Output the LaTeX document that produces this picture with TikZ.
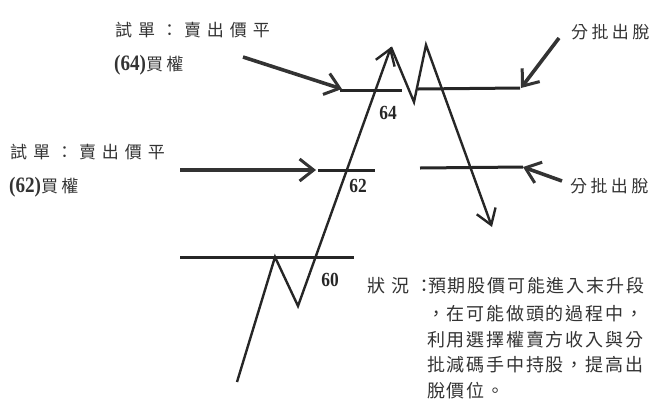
\documentclass[tikz,border=0pt]{standalone}
\usepackage{fontspec}
\setmainfont{Liberation Serif}
\newfontfamily\cjk{Noto Sans CJK TC}
\newfontfamily\condbf[FakeStretch=0.87]{Liberation Serif Bold}
\usetikzlibrary{arrows.meta}
\tikzset{
  level/.style={line width=3pt, draw=black!85},
  trend/.style={line width=2.4pt, draw=black!85},
  barb/.style={-{Straight Barb[length=15pt,width=20pt,line width=2.4pt]}},
  pointer/.style={line width=3.6pt, draw=black!80, -{Straight Barb[length=14pt,width=22pt,line width=3pt]}},
  lbl/.style={inner sep=0pt, text=black!80, font=\cjk\fontsize{17}{20}\selectfont\addfontfeature{LetterSpace=35}},
  sell/.style={inner sep=0pt, text=black!80, font=\cjk\fontsize{17}{20}\selectfont\addfontfeature{LetterSpace=20}},
  num/.style={inner sep=0pt, text=black!85, font=\condbf\fontsize{20}{22}\selectfont},
  note/.style={inner sep=0pt, anchor=base west, text=black!80, font=\cjk\fontsize{18}{22}\selectfont\addfontfeature{LetterSpace=10}}
}
\begin{document}
\begin{tikzpicture}[x=1pt,y=-1pt]
\useasboundingbox (0,0) rectangle (653,416);
% trend path points
\coordinate (start) at (237,382);
\coordinate (p1) at (275,257);
\coordinate (v1) at (298,306);
\coordinate (peak1) at (391,47);
\coordinate (v2) at (414,102);
\coordinate (peak2) at (426,45);
\coordinate (fin) at (492,227);
% level lines
\coordinate (a64l) at (340,90); \coordinate (b64l) at (402,90);
\coordinate (a64r) at (418,89); \coordinate (b64r) at (520,88);
\coordinate (a62l) at (318,170); \coordinate (b62l) at (375,170);
\coordinate (a62r) at (420,168); \coordinate (b62r) at (523,167);
\coordinate (a60) at (180,257); \coordinate (b60) at (354,257);
\draw[level] (a64l) -- (b64l);
\draw[level] (a64r) -- (b64r);
\draw[level] (a62l) -- (b62l);
\draw[level] (a62r) -- (b62r);
\draw[level] (a60) -- (b60);
% trend
\draw[trend, barb, line join=miter] (start) -- (p1) -- (v1) -- (peak1);
\draw[trend, barb, line join=miter] (peak1) -- (v2) -- (peak2) -- (fin);
% labels on levels
\node[num] (n64) at (388,113) {64};
\node[num] (n62) at (358,186) {62};
\node[num] (n60) at (330,280) {60};
% left labels
\node[lbl, anchor=west] (t1) at (115,30) {試單：賣出價平};
\node[anchor=west, inner sep=0pt, text=black!80] (o1) at (114,65) {\condbf\fontsize{22}{24}\selectfont (64)\cjk\fontsize{17}{20}\selectfont\addfontfeature{LetterSpace=20}買權};
\node[lbl, anchor=west] (t2) at (10,152) {試單：賣出價平};
\node[anchor=west, inner sep=0pt, text=black!80] (o2) at (9,187) {\condbf\fontsize{22}{24}\selectfont (62)\cjk\fontsize{17}{20}\selectfont\addfontfeature{LetterSpace=20}買權};
% right labels
\node[sell, anchor=west] (s1) at (571,32) {分批出脫};
\node[sell, anchor=west] (s2) at (570,186) {分批出脫};
% pointers
\coordinate (q1) at (243,57); \coordinate (q1e) at (342,89);
\coordinate (q2) at (180,170); \coordinate (q2e) at (316,170);
\coordinate (q3) at (559,38); \coordinate (q3e) at (521,88);
\coordinate (q4) at (562,181); \coordinate (q4e) at (523,167);
\draw[pointer] (q1) -- (q1e);
\draw[pointer] (q2) -- (q2e);
\draw[pointer] (q3) -- (q3e);
\draw[pointer] (q4) -- (q4e);
% note
\node[note, font=\cjk\fontsize{18}{22}\selectfont\addfontfeature{LetterSpace=35}] (k0) at (367,292) {狀況：};
\node[note] (k1) at (428,292) {預期股價可能進入末升段};
\node[note] (k2) at (427,320) {，在可能做頭的過程中，};
\node[note] (k3) at (427,346) {利用選擇權賣方收入與分};
\node[note] (k4) at (427,371) {批減碼手中持股，提高出};
\node[note] (k5) at (427,397) {脫價位。};
\end{tikzpicture}
\end{document}
